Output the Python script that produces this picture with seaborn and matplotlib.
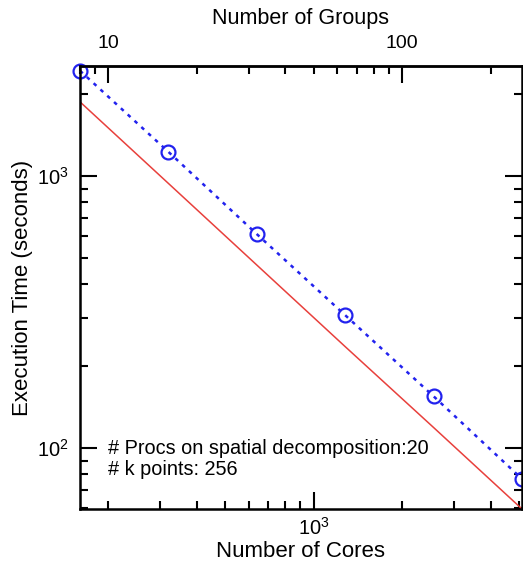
import numpy as np
import pandas as pd
import seaborn as sns
import matplotlib
matplotlib.use("Agg")
import matplotlib.pyplot as plt
from matplotlib.ticker import LogLocator, FixedLocator, FixedFormatter, NullFormatter

sns.set_style("white")
plt.rcParams['font.family'] = ['Liberation Sans', 'DejaVu Sans']
plt.rcParams['mathtext.fontset'] = 'custom'
plt.rcParams['mathtext.rm'] = 'Liberation Sans'
plt.rcParams['mathtext.it'] = 'Liberation Sans'
for k in ['text.color', 'axes.labelcolor', 'xtick.color', 'ytick.color']:
    plt.rcParams[k] = 'black'

# data
cores = [160, 320, 640, 1280, 2560, 5120]
measured = [2440, 1228, 612, 308, 155, 77]
ideal = [1875, 940, 471, 236, 119, 59.7]
procs_per_group = 20
group_ticks = [10, 100]
group_tick_labels = ["10", "100"]

df = pd.DataFrame({"cores": cores, "measured": measured, "ideal": ideal})

fig = plt.figure(figsize=(5.23, 5.71), dpi=100)
ax = fig.add_axes([80 / 523, 62 / 571, 442 / 523, 443 / 571])

sns.lineplot(data=df, x="cores", y="ideal", ax=ax, color="#e8403c", linewidth=1.1)
sns.lineplot(data=df, x="cores", y="measured", ax=ax, color="#2222ee", linewidth=1.8,
             linestyle=(0, (1.5, 2.2)), marker="o", markersize=10,
             markerfacecolor="none", markeredgecolor="#2222ee", markeredgewidth=1.6,
             clip_on=False)

ax.set_xscale("log")
ax.set_yscale("log")
ax.set_xlim(160, 5120)
ax.set_ylim(59.7, 2540)

for s in ax.spines.values():
    s.set_linewidth(1.8)
    s.set_color("black")

ax.xaxis.set_major_locator(LogLocator(base=10))
ax.xaxis.set_minor_locator(LogLocator(base=10, subs=np.arange(2, 10)))
ax.xaxis.set_minor_formatter(NullFormatter())
ax.yaxis.set_minor_formatter(NullFormatter())
ax.tick_params(axis="both", which="major", direction="in", length=12, width=1.5,
               labelsize=14.5, pad=8)
ax.tick_params(axis="both", which="minor", direction="in", length=6, width=1.5)
ax.tick_params(axis="y", which="both", left=True, right=True)
ax.tick_params(axis="x", which="both", bottom=True, top=False, pad=6)

ax.set_xlabel("Number of Cores", fontsize=16, labelpad=1)
ax.set_ylabel("Execution Time (seconds)", fontsize=16, labelpad=3)

sec = ax.secondary_xaxis("top", functions=(lambda c: c / procs_per_group,
                                            lambda g: g * procs_per_group))
sec.xaxis.set_major_locator(FixedLocator(group_ticks))
sec.xaxis.set_major_formatter(FixedFormatter(group_tick_labels))
sec.xaxis.set_minor_locator(LogLocator(base=10, subs=np.arange(2, 10)))
sec.xaxis.set_minor_formatter(NullFormatter())
sec.tick_params(axis="x", which="major", direction="in", length=12, width=1.5,
                labelsize=14, pad=10)
sec.tick_params(axis="x", which="minor", direction="in", length=6, width=1.5)
sec.spines["top"].set_linewidth(1.8)
sec.set_xlabel("Number of Groups", fontsize=15.5, labelpad=8)

ax.text(0.064, 0.113, "# Procs on spatial decomposition:20\n# k points: 256",
        transform=ax.transAxes, fontsize=14.3, va="center", ha="left",
        linespacing=1.15)

fig.savefig("out.png", dpi=100)
